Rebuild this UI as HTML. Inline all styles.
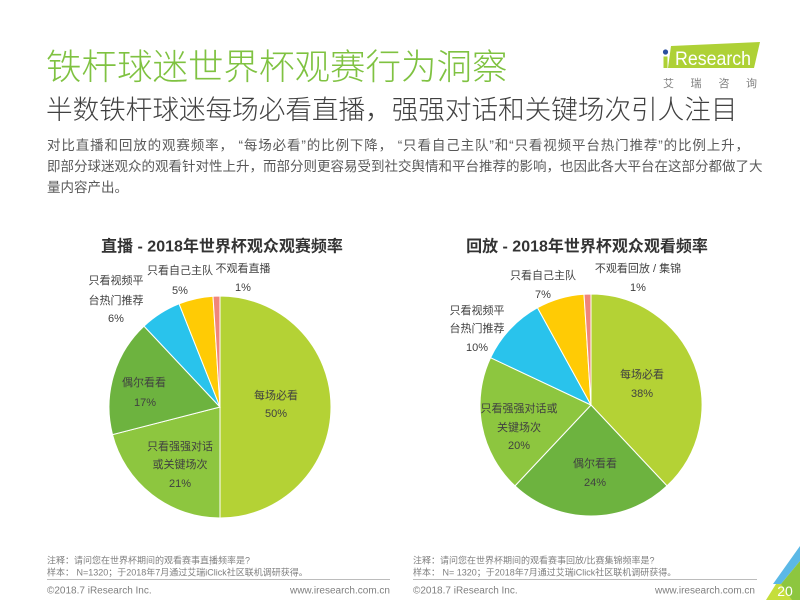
<!DOCTYPE html>
<html><head><meta charset="utf-8">
<style>
html,body{margin:0;padding:0;background:#fff;}
body{width:800px;height:600px;position:relative;overflow:hidden;font-family:"Liberation Sans","Noto Sans CJK SC",sans-serif;}
.t{position:absolute;white-space:nowrap;}
#title{left:46px;top:49px;font-size:35.5px;line-height:36px;color:#7fc241;font-weight:300;}
#sub{left:46px;top:97px;font-size:26.6px;line-height:27px;color:#404040;font-weight:300;}
.body{position:absolute;left:47px;font-size:13.5px;line-height:21px;color:#595959;text-align:justify;text-align-last:justify;white-space:nowrap;}
svg{position:absolute;left:0;top:0;}
</style></head>
<body>
<div class="t" id="title">铁杆球迷世界杯观赛行为洞察</div>
<div class="t" id="sub">半数铁杆球迷每场必看直播，强强对话和关键场次引人注目</div>
<div class="body" style="top:135px;width:702px;">对比直播和回放的观赛频率， “每场必看”的比例下降， “只看自己主队”和“只看视频平台热门推荐”的比例上升，</div>
<div class="body" style="top:156px;width:705px;">即部分球迷观众的观看针对性上升，而部分则更容易受到社交舆情和平台推荐的影响，也因此各大平台在这部分都做了大</div>
<div class="body" style="top:177px;text-align-last:left;">量内容产出。</div>

<svg width="800" height="600" viewBox="0 0 800 600" xmlns="http://www.w3.org/2000/svg" font-family="Liberation Sans, Noto Sans CJK SC, sans-serif">
  <!-- logo -->
  <polygon points="671,46 760,42 754,68 668,68" fill="#aed136"/>
  <circle cx="665.5" cy="52" r="2.6" fill="#2b4f9e"/>
  <rect x="663.5" y="56.5" width="4" height="11.5" fill="#aed136"/>
  <text x="675" y="65" font-size="19.5" fill="#fff" textLength="76" lengthAdjust="spacingAndGlyphs">Research</text>
  <g font-size="11" fill="#808080" text-anchor="middle">
    <text x="668.5" y="87">艾</text>
    <text x="696" y="87">瑞</text>
    <text x="724" y="87">咨</text>
    <text x="751.5" y="87">询</text>
  </g>

  <!-- chart titles -->
  <text x="222" y="251.5" font-size="16" font-weight="bold" fill="#333" text-anchor="middle">直播 - 2018年世界杯观众观赛频率</text>
  <text x="587" y="251.5" font-size="16" font-weight="bold" fill="#333" text-anchor="middle">回放 - 2018年世界杯观众观看频率</text>

  <!-- left pie -->
  <g stroke="#fff" stroke-width="1">
    <path d="M220,407 L220,296 A111,111 0 0 1 220,518 Z" fill="#b4d235"/>
    <path d="M220,407 L220,518 A111,111 0 0 1 112.5,434.6 Z" fill="#8dc63f"/>
    <path d="M220,407 L112.5,434.6 A111,111 0 0 1 144,326.1 Z" fill="#6db33f"/>
    <path d="M220,407 L144,326.1 A111,111 0 0 1 179.1,303.8 Z" fill="#29c3ec"/>
    <path d="M220,407 L179.1,303.8 A111,111 0 0 1 213,296.2 Z" fill="#ffcb05"/>
    <path d="M220,407 L213,296.2 A111,111 0 0 1 220,296 Z" fill="#f0857a"/>
  </g>
  <!-- right pie -->
  <g stroke="#fff" stroke-width="1">
    <path d="M591,405 L591,294 A111,111 0 0 1 667,485.9 Z" fill="#b4d235"/>
    <path d="M591,405 L667,485.9 A111,111 0 0 1 515,485.9 Z" fill="#6db33f"/>
    <path d="M591,405 L515,485.9 A111,111 0 0 1 490.6,357.7 Z" fill="#8dc63f"/>
    <path d="M591,405 L490.6,357.7 A111,111 0 0 1 537.5,307.7 Z" fill="#29c3ec"/>
    <path d="M591,405 L537.5,307.7 A111,111 0 0 1 584,294.2 Z" fill="#ffcb05"/>
    <path d="M591,405 L584,294.2 A111,111 0 0 1 591,294 Z" fill="#f0857a"/>
  </g>

  <!-- left labels -->
  <g font-size="11" fill="#404040" text-anchor="middle">
    <text x="116" y="284">只看视频平</text>
    <text x="116" y="304">台热门推荐</text>
    <text x="116" y="322">6%</text>
    <text x="180" y="274">只看自己主队</text>
    <text x="180" y="294">5%</text>
    <text x="243" y="272">不观看直播</text>
    <text x="243" y="291">1%</text>
    <text x="276" y="399">每场必看</text>
    <text x="276" y="417">50%</text>
    <text x="144" y="386">偶尔看看</text>
    <text x="145" y="406">17%</text>
    <text x="180" y="450">只看强强对话</text>
    <text x="180" y="468">或关键场次</text>
    <text x="180" y="487">21%</text>
  </g>
  <!-- right labels -->
  <g font-size="11" fill="#404040" text-anchor="middle">
    <text x="638" y="272">不观看回放 / 集锦</text>
    <text x="638" y="291">1%</text>
    <text x="543" y="279">只看自己主队</text>
    <text x="543" y="298">7%</text>
    <text x="477" y="314">只看视频平</text>
    <text x="477" y="332">台热门推荐</text>
    <text x="477" y="351">10%</text>
    <text x="642" y="378">每场必看</text>
    <text x="642" y="397">38%</text>
    <text x="519" y="412">只看强强对话或</text>
    <text x="519" y="431">关键场次</text>
    <text x="519" y="449">20%</text>
    <text x="595" y="467">偶尔看看</text>
    <text x="595" y="486">24%</text>
  </g>

  <!-- footer -->
  <g font-size="9" fill="#7f7f7f">
    <text x="47" y="563.5">注释：请问您在世界杯期间的观看赛事直播频率是?</text>
    <text x="47" y="575.5">样本： N=1320；于2018年7月通过艾瑞iClick社区联机调研获得。</text>
    <text x="413" y="563.5">注释：请问您在世界杯期间的观看赛事回放/比赛集锦频率是?</text>
    <text x="413" y="575.5">样本： N= 1320；于2018年7月通过艾瑞iClick社区联机调研获得。</text>
  </g>
  <line x1="47" y1="579.5" x2="390" y2="579.5" stroke="#a6a6a6" stroke-width="0.8"/>
  <line x1="413" y1="579.5" x2="757" y2="579.5" stroke="#a6a6a6" stroke-width="0.8"/>
  <g font-size="10" fill="#7f7f7f">
    <text x="47" y="593.5">©2018.7 iResearch Inc.</text>
    <text x="390" y="593.5" text-anchor="end">www.iresearch.com.cn</text>
    <text x="413" y="593.5">©2018.7 iResearch Inc.</text>
    <text x="755" y="593.5" text-anchor="end">www.iresearch.com.cn</text>
  </g>

  <!-- corner decoration -->
  <polygon points="800,546 800,561 781,584 773,584" fill="#5bb8e6"/>
  <polygon points="800,561 800,600 770,600 781,584" fill="#8dc63f"/>
  <polygon points="766,600 776,584 781,584 792,600" fill="#c5de3c"/>
  <text x="785" y="596" font-size="14" fill="#fff" text-anchor="middle">20</text>
</svg>
</body></html>
